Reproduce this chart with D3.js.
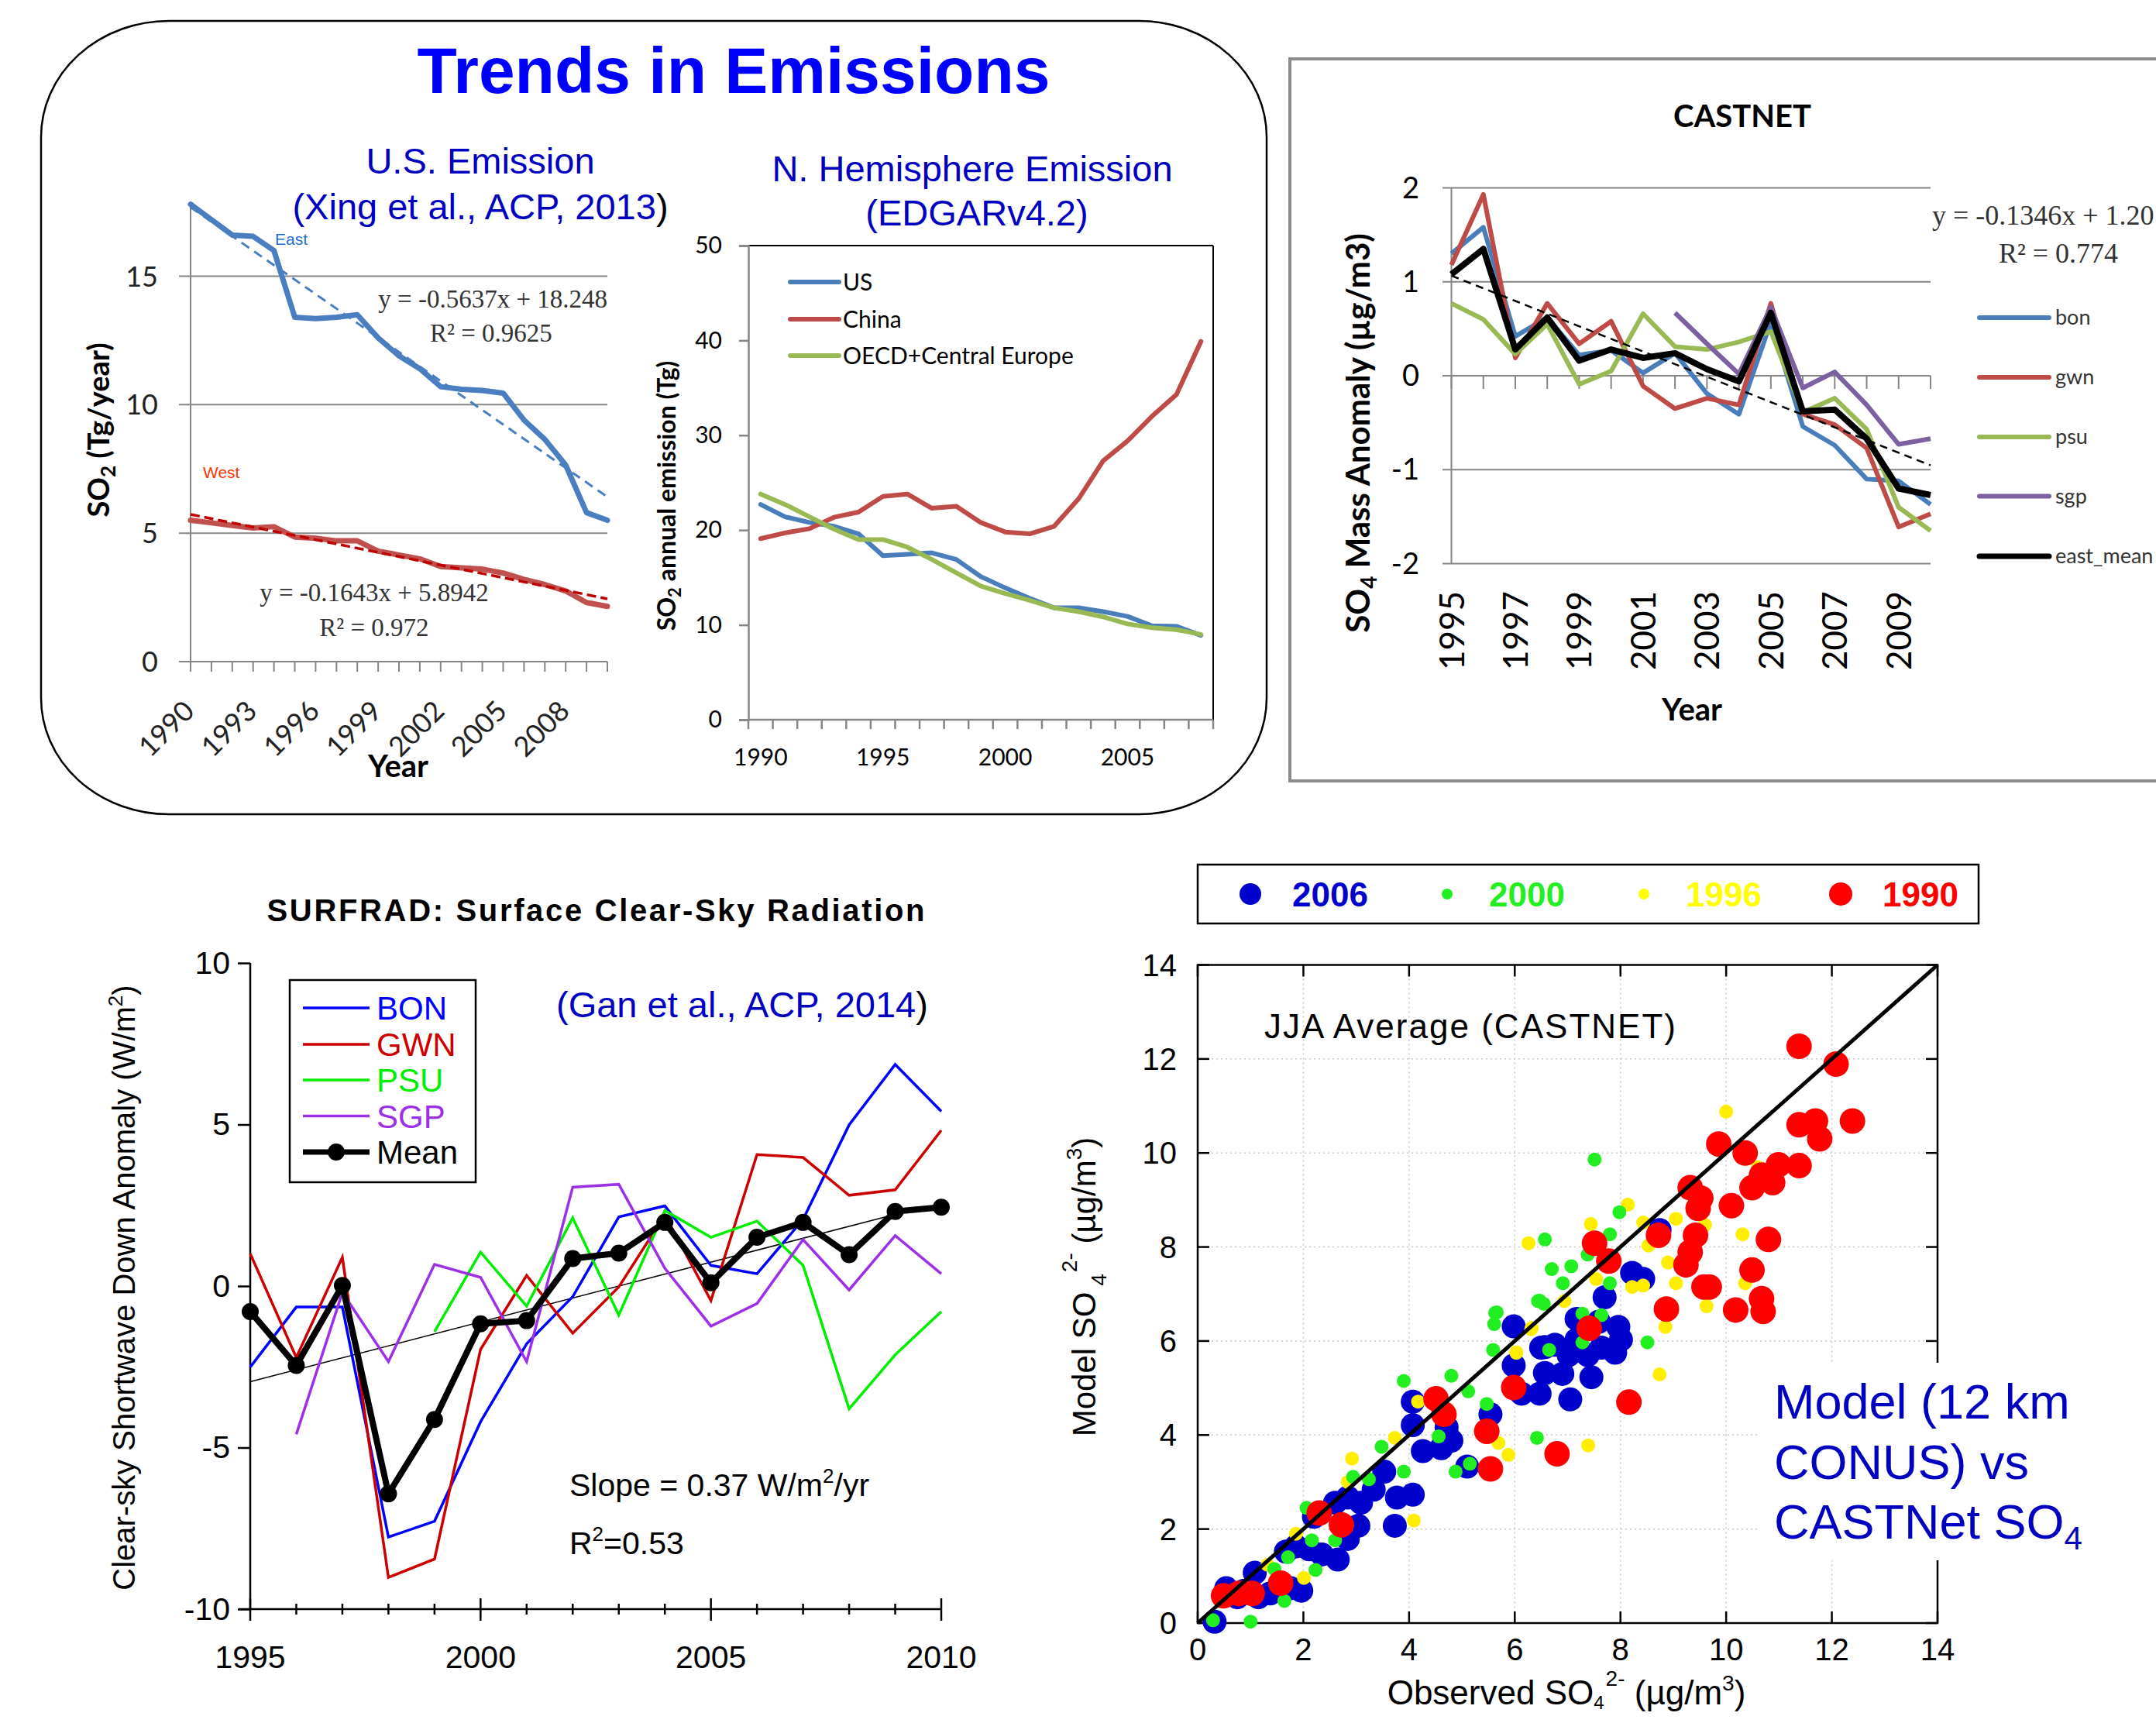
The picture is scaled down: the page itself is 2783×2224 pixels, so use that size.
<!doctype html>
<html>
<head>
<meta charset="utf-8">
<title>Trends in Emissions</title>
<script src="https://d3js.org/d3.v7.min.js"></script>
<style>
  body { margin: 0; background: #fff; }
</style>
</head>
<body>
<script>
// ---------------- data ----------------
// U.S. emission (Xing et al. 2013), Tg/yr
var usYears = [1990,1991,1992,1993,1994,1995,1996,1997,1998,1999,2000,2001,2002,2003,2004,2005,2006,2007,2008,2009,2010];
var usLabelYears = [1990,1993,1996,1999,2002,2005,2008];
var usTicks = [0,5,10,15];
var usEast = [17.8,17.2,16.6,16.55,16.0,13.4,13.35,13.4,13.5,12.6,11.9,11.4,10.7,10.6,10.55,10.45,9.4,8.65,7.65,5.8,5.5];
var usWest = [5.5,5.4,5.3,5.2,5.25,4.85,4.8,4.7,4.7,4.3,4.15,4.0,3.7,3.65,3.6,3.45,3.2,3.0,2.75,2.3,2.15];
var eastFit = [-0.5637, 18.248];
var westFit = [-0.1643, 5.8942];

// N. Hemisphere emission (EDGAR v4.2), Tg
var nhYears = [1990,1991,1992,1993,1994,1995,1996,1997,1998,1999,2000,2001,2002,2003,2004,2005,2006,2007,2008];
var nhLabelYears = [1990,1995,2000,2005];
var nhTicks = [0,10,20,30,40,50];
var nhUS = [22.7,21.4,20.8,20.4,19.6,17.3,17.45,17.6,16.9,15.1,13.9,12.8,11.8,11.8,11.4,10.9,9.9,9.85,8.9];
var nhChina = [19.1,19.7,20.15,21.35,21.9,23.55,23.8,22.3,22.5,20.8,19.8,19.6,20.4,23.3,27.3,29.4,32.0,34.3,39.9];
var nhOECD = [23.8,22.7,21.4,20.1,19.0,19.0,18.2,16.9,15.5,14.1,13.3,12.6,11.8,11.4,10.85,10.1,9.7,9.5,9.0];
var nhNames = ["US","China","OECD+Central Europe"];

// CASTNET SO4 anomaly, ug/m3
var cnYears = [1995,1996,1997,1998,1999,2000,2001,2002,2003,2004,2005,2006,2007,2008,2009,2010];
var cnLabelYears = [1995,1997,1999,2001,2003,2005,2007,2009];
var cnTicks = [-2,-1,0,1,2];
var cnBon = [1.3,1.58,0.42,0.62,0.22,0.27,0.03,0.24,-0.19,-0.41,0.57,-0.54,-0.74,-1.1,-1.12,-1.37];
var cnGwn = [1.18,1.93,0.19,0.77,0.34,0.58,-0.11,-0.35,-0.24,-0.31,0.77,-0.41,-0.52,-0.77,-1.61,-1.47];
var cnPsu = [0.77,0.6,0.23,0.55,-0.09,0.05,0.66,0.31,0.28,0.36,0.47,-0.39,-0.24,-0.57,-1.4,-1.65];
var cnSgp = [null,null,null,null,null,null,null,0.67,0.34,0.02,0.73,-0.13,0.04,-0.31,-0.73,-0.67];
var cnMean = [1.08,1.35,0.28,0.62,0.16,0.28,0.19,0.24,0.07,-0.06,0.67,-0.38,-0.36,-0.67,-1.2,-1.27];
var cnNames = ["bon","gwn","psu","sgp","east_mean"];
var cnFit = [-0.1346, 1.20];

// SURFRAD clear-sky shortwave down anomaly, W/m2
var sfYears = [1995,1996,1997,1998,1999,2000,2001,2002,2003,2004,2005,2006,2007,2008,2009,2010];
var sfLabelYears = [1995,2000,2005,2010];
var sfTicks = [-10,-5,0,5,10];
var sfBON = [-2.51,-0.65,-0.65,-7.77,-7.28,-4.2,-1.79,-0.33,2.14,2.48,0.64,0.38,2.06,4.99,6.86,5.41];
var sfGWN = [1.0,-2.21,0.89,-9.02,-8.45,-1.96,0.33,-1.46,-0.03,2.2,-0.45,4.07,3.98,2.81,2.98,4.82];
var sfPSU = [null,null,null,null,-1.41,1.05,-0.62,2.11,-0.9,2.34,1.51,2.01,0.64,-3.8,-2.13,-0.79];
var sfSGP = [null,-4.59,-0.2,-2.34,0.67,0.27,-2.34,3.06,3.15,0.55,-1.24,-0.54,1.44,-0.12,1.56,0.38];
var sfMean = [-0.79,-2.46,0.02,-6.43,-4.13,-1.17,-1.07,0.85,1.02,1.97,0.1,1.51,1.97,0.97,2.31,2.44];
var sfNames = ["BON","GWN","PSU","SGP","Mean"];
var sfFit = [0.37, -2.96]; // slope per year, value at 1995
var sfFitYears = [1995, 2009];

// Model vs CASTNet SO4 (JJA), [observed, model]
var sc2006 = [[0.32,0.03],[0.54,0.74],[0.88,0.69],[1.08,1.07],[1.37,0.63],[1.76,0.74],[1.96,0.69],[0.75,0.55],[1.15,0.55],
  [1.67,1.52],[1.86,1.63],[2.11,1.57],[2.35,1.46],[2.65,1.35],[2.2,2.26],[2.6,2.56],[2.84,2.67],[3.09,2.56],[3.33,2.84],[3.53,3.22],
  [3.04,2.07],[2.84,1.79],[3.73,2.07],[3.77,2.67],[4.07,2.73],[4.07,4.21],[4.07,4.71],[4.26,3.66],[4.61,3.72],[4.8,3.88],[4.71,4.16],
  [5.1,3.33],[5.54,4.44],[5.98,6.31],[5.98,5.48],[6.13,4.88],[6.47,4.88],[6.57,5.87],[6.57,5.32],[7.17,6.47],[7.59,6.41],[7.96,6.3],
  [8.01,6.03],[7.64,5.86],[7.17,6.03],[6.76,5.92],[6.5,5.86],[7.02,5.7],[7.38,5.7],[7.9,5.75],[7.7,6.93],[8.22,7.45],[8.43,7.32],
  [8.74,8.36],[7.45,5.23],[7.05,4.76],[6.9,5.3]];
var sc2000 = [[0.29,0.06],[1.0,0.03],[1.64,0.47],[1.71,1.4],[1.45,1.15],[2.06,2.45],[2.16,1.76],[2.23,1.13],[2.6,1.76],[2.94,3.11],
  [3.48,3.75],[3.24,3.06],[3.9,5.15],[3.9,3.22],[4.8,5.26],[4.56,3.97],[4.88,3.22],[5.15,3.39],[5.47,4.66],[5.66,6.61],[5.59,5.81],
  [6.42,3.94],[6.47,6.86],[5.12,4.93],[7.51,9.86],[6.57,8.16],[7.8,8.27],[7.98,8.74],[6.7,7.53],[7.07,7.59],[6.91,7.23],[7.8,7.23],
  [7.38,7.84],[6.44,6.85],[6.55,6.79],[5.63,6.6],[5.61,6.36],[7.28,6.58],[7.64,6.55],[8.51,5.97],[6.65,5.81],[7.28,5.97]];
var sc1996 = [[0.9,0.75],[1.32,1.24],[2.01,0.96],[1.86,1.9],[2.92,3.5],[2.84,3.0],[3.73,3.94],[4.09,2.18],[4.17,4.71],[5.69,3.83],
  [5.88,3.58],[6.03,5.76],[6.32,6.28],[10.0,10.88],[8.14,8.9],[7.44,8.49],[6.26,8.08],[8.43,8.52],[9.05,8.6],[9.6,8.47],[10.31,8.27],
  [8.9,7.67],[7.54,7.32],[9.05,7.23],[8.22,7.15],[8.43,7.18],[10.36,7.23],[9.63,6.74],[8.85,6.3],[6.94,6.85],[6.31,6.25],[6.03,5.75],
  [10.6,9.7],[8.53,8.03],[7.39,3.78],[8.74,5.29]];
var sc1990 = [[0.49,0.58],[0.78,0.63],[1.03,0.63],[1.57,0.85],[2.3,2.34],[2.72,2.09],[4.51,4.77],[4.66,4.44],[5.47,4.08],[5.54,3.28],
  [5.98,5.01],[6.8,3.6],[8.16,4.7],[11.38,12.27],[12.08,11.89],[12.39,10.68],[11.38,10.6],[11.69,10.68],[11.77,10.3],[9.86,10.19],
  [10.36,10.0],[11.38,9.73],[10.99,9.75],[10.88,9.37],[10.49,9.26],[10.67,9.53],[9.32,9.26],[9.52,9.04],[9.47,8.82],[10.1,8.88],
  [7.51,8.08],[7.78,7.7],[8.72,8.25],[9.42,8.25],[9.32,7.89],[9.24,7.62],[10.8,8.16],[10.49,7.51],[9.58,7.15],[9.68,7.15],[8.87,6.68],
  [10.18,6.66],[10.67,6.9],[10.7,6.63],[7.41,6.27]];
var scLegend = ["2006","2000","1996","1990"];
var scTicks = [0,2,4,6,8,10,12,14];

// ---------------- setup ----------------
var W = 2783, H = 2224;
var EXCEL = "Lato, 'Open Sans', sans-serif";
var ARIAL = "'Liberation Sans', Arial, sans-serif";
var SERIF = "'Liberation Serif', 'Times New Roman', serif";
var GRID = "#868686";

var svg = d3.select("body").append("svg")
    .attr("width", W).attr("height", H)
    .style("display", "block");
svg.append("rect").attr("width", W).attr("height", H).attr("fill", "#fff");

function label(g, x, y, txt, size, fam, anchor, fill, weight) {
    return g.append("text")
        .attr("x", x).attr("y", y)
        .attr("font-size", size)
        .attr("font-family", fam)
        .attr("text-anchor", anchor || "start")
        .attr("fill", fill || "#000")
        .attr("font-weight", weight || "normal")
        .text(txt);
}

function hline(g, x1, x2, y, color, w) {
    return g.append("line").attr("x1", x1).attr("x2", x2).attr("y1", y).attr("y2", y)
        .attr("stroke", color).attr("stroke-width", w);
}
function vline(g, x, y1, y2, color, w) {
    return g.append("line").attr("x1", x).attr("x2", x).attr("y1", y1).attr("y2", y2)
        .attr("stroke", color).attr("stroke-width", w);
}
function plain(d) { return String(d); } // keep ascii hyphen for negatives

// ---------------- top frame + title ----------------
var frame = svg.append("g");
frame.append("rect")
    .attr("x", 53).attr("y", 27).attr("width", 1582).attr("height", 1024)
    .attr("rx", 165).attr("ry", 150)
    .attr("fill", "none").attr("stroke", "#000").attr("stroke-width", 2.5);
label(frame, 947, 120, "Trends in Emissions", 84, ARIAL, "middle", "#0000ff", "bold");

// ---------------- panel 1: U.S. emission ----------------
var p1 = svg.append("g");
var p1x = d3.scalePoint().domain(usYears).range([246, 784]);
var p1y = d3.scaleLinear().domain([0, 15]).range([854, 356.5]);

label(p1, 620, 224, "U.S. Emission", 47, ARIAL, "middle", "#0000c0");
var cite1 = label(p1, 620, 283, "(Xing et al., ACP, 2013", 47, ARIAL, "middle", "#0000c0");
cite1.append("tspan").attr("fill", "#000").text(")");

usTicks.forEach(function(v) { hline(p1, 231, 784, p1y(v), GRID, 2); });
vline(p1, 246, p1y(0), p1y(17.9), GRID, 2);
usYears.forEach(function(yr) { vline(p1, p1x(yr), p1y(0), p1y(0) + 13, GRID, 2); });

p1.selectAll(".ytl").data(usTicks).enter().append("text")
    .attr("x", 204).attr("y", function(d) { return p1y(d) + 13; })
    .attr("text-anchor", "end").attr("font-family", EXCEL).attr("font-size", 36).attr("fill", "#222")
    .text(plain);
p1.selectAll(".xtl").data(usLabelYears).enter().append("text")
    .attr("transform", function(d) { return "translate(" + (p1x(d) + 7) + ",920) rotate(-45)"; })
    .attr("text-anchor", "end").attr("font-family", EXCEL).attr("font-size", 36).attr("fill", "#222")
    .text(plain);

var t1 = p1.append("text").attr("transform", "translate(141,555) rotate(-90)")
    .attr("text-anchor", "middle").attr("font-family", EXCEL).attr("font-size", 38).attr("font-weight", "bold");
t1.append("tspan").text("SO");
t1.append("tspan").attr("font-size", 26).attr("dy", 8).text("2");
t1.append("tspan").attr("dy", -8).text(" (Tg/year)");
label(p1, 514, 1003, "Year", 40, EXCEL, "middle", "#000", "bold");

var line1 = d3.line().x(function(d, i) { return p1x(usYears[i]); }).y(function(d) { return p1y(d); });
function fitSeg(fit) {
    var n = usYears.length;
    return [[p1x(usYears[0]), p1y(fit[0] * 1 + fit[1])], [p1x(usYears[n - 1]), p1y(fit[0] * n + fit[1])]];
}
p1.append("path").attr("d", line1(usEast)).attr("fill", "none").attr("stroke", "#4a7ec1")
    .attr("stroke-width", 7).attr("stroke-linejoin", "round").attr("stroke-linecap", "round");
p1.append("path").attr("d", line1(usWest)).attr("fill", "none").attr("stroke", "#c0504d")
    .attr("stroke-width", 7).attr("stroke-linejoin", "round").attr("stroke-linecap", "round");
p1.append("path").attr("d", d3.line()(fitSeg(eastFit))).attr("stroke", "#4a7ec1")
    .attr("stroke-width", 3).attr("stroke-dasharray", "12,8").attr("fill", "none");
p1.append("path").attr("d", d3.line()(fitSeg(westFit))).attr("stroke", "#c00000")
    .attr("stroke-width", 3.5).attr("stroke-dasharray", "12,6").attr("fill", "none");

label(p1, 355, 316, "East", 21, ARIAL, "start", "#1f6fd0");
label(p1, 262, 617, "West", 21, ARIAL, "start", "#ff3300");
label(p1, 784, 397, "y = -0.5637x + 18.248", 33, SERIF, "end", "#333");
label(p1, 634, 441, "R² = 0.9625", 33, SERIF, "middle", "#333");
label(p1, 483, 776, "y = -0.1643x + 5.8942", 33, SERIF, "middle", "#333");
label(p1, 483, 821, "R² = 0.972", 33, SERIF, "middle", "#333");

// ---------------- panel 2: N. Hemisphere ----------------
var p2 = svg.append("g");
var p2x = d3.scaleBand().domain(nhYears).range([966, 1566]);
var p2y = d3.scaleLinear().domain([0, 50]).range([929, 317]);
var bw = p2x.bandwidth();

label(p2, 1255, 234, "N. Hemisphere Emission", 47, ARIAL, "middle", "#0000c0");
label(p2, 1261, 291, "(EDGARv4.2)", 47, ARIAL, "middle", "#0000c0");

hline(p2, 966, 1566, p2y(50), "#000", 2);
vline(p2, 1566, p2y(50), p2y(0), "#000", 2);
p2.append("g").attr("transform", "translate(966,0)")
    .call(d3.axisLeft(p2y).tickValues(nhTicks).tickSize(12).tickPadding(22).tickFormat(plain))
    .call(function(g) {
        g.selectAll("path,line").attr("stroke", GRID).attr("stroke-width", 2.5);
        g.selectAll("text").attr("font-family", EXCEL).attr("font-size", 30).attr("fill", "#000");
    });
hline(p2, 966, 1566, p2y(0), GRID, 2.5);
nhYears.concat([null]).forEach(function(yr, i) {
    var x = i < nhYears.length ? p2x(yr) : p2x(nhYears[nhYears.length - 1]) + bw;
    vline(p2, x, p2y(0), p2y(0) + 12, GRID, 2.5);
});
p2.selectAll(".xtl").data(nhLabelYears).enter().append("text")
    .attr("x", function(d) { return p2x(d) + bw / 2; }).attr("y", 988)
    .attr("text-anchor", "middle").attr("font-family", EXCEL).attr("font-size", 30)
    .text(plain);

var t2 = p2.append("text").attr("transform", "translate(872,640) rotate(-90)")
    .attr("text-anchor", "middle").attr("font-family", EXCEL).attr("font-size", 32).attr("font-weight", "bold");
t2.append("tspan").text("SO");
t2.append("tspan").attr("font-size", 22).attr("dy", 7).text("2");
t2.append("tspan").attr("dy", -7).text(" annual emission (Tg)");

var nhColors = ["#4a7ebb", "#be4b48", "#98b954"];
var line2 = d3.line().x(function(d, i) { return p2x(nhYears[i]) + bw / 2; }).y(function(d) { return p2y(d); });
[nhUS, nhChina, nhOECD].forEach(function(s, k) {
    p2.append("path").attr("d", line2(s)).attr("fill", "none").attr("stroke", nhColors[k])
        .attr("stroke-width", 6).attr("stroke-linejoin", "round").attr("stroke-linecap", "round");
});
var legY2 = [364, 412, 459];
nhNames.forEach(function(n, k) {
    p2.append("line").attr("x1", 1020).attr("x2", 1083).attr("y1", legY2[k]).attr("y2", legY2[k])
        .attr("stroke", nhColors[k]).attr("stroke-width", 6).attr("stroke-linecap", "round");
    label(p2, 1088, legY2[k] + 11, n, 30, EXCEL, "start", "#000");
});

// ---------------- panel 3: CASTNET ----------------
var p3 = svg.append("g");
p3.append("rect").attr("x", 1665).attr("y", 76).attr("width", 1300).attr("height", 932)
    .attr("fill", "none").attr("stroke", "#8c8c8c").attr("stroke-width", 4);
var p3x = d3.scalePoint().domain(cnYears).range([1873.5, 2492]);
var p3y = d3.scaleLinear().domain([-2, 2]).range([727.5, 242.5]);

label(p3, 2249, 164, "CASTNET", 40, EXCEL, "middle", "#000", "bold");
cnTicks.forEach(function(v) { hline(p3, 1862, 2492, p3y(v), GRID, 2); });
vline(p3, 1873.5, p3y(-2), p3y(2), GRID, 2);
cnYears.forEach(function(yr) { vline(p3, p3x(yr), p3y(0), p3y(0) + 17, GRID, 2); });
p3.selectAll(".ytl").data(cnTicks).enter().append("text")
    .attr("x", 1832).attr("y", function(d) { return p3y(d) + 13; })
    .attr("text-anchor", "end").attr("font-family", EXCEL).attr("font-size", 38)
    .text(plain);
p3.selectAll(".xtl").data(cnLabelYears).enter().append("text")
    .attr("transform", function(d) { return "translate(" + (p3x(d) + 16) + ",763) rotate(-90)"; })
    .attr("text-anchor", "end").attr("font-family", EXCEL).attr("font-size", 44)
    .text(plain);
label(p3, 2184, 930, "Year", 40, EXCEL, "middle", "#000", "bold");
var t3 = p3.append("text").attr("transform", "translate(1768,559) rotate(-90)")
    .attr("text-anchor", "middle").attr("font-family", EXCEL).attr("font-size", 42).attr("font-weight", "bold");
t3.append("tspan").text("SO");
t3.append("tspan").attr("font-size", 28).attr("dy", 9).text("4");
t3.append("tspan").attr("dy", -9).text(" Mass  Anomaly (µg/m3)");

var cnColors = ["#4a7ebb", "#be4b48", "#98b954", "#7d60a0", "#000"];
var line3 = d3.line().defined(function(d) { return d != null; })
    .x(function(d, i) { return p3x(cnYears[i]); }).y(function(d) { return p3y(d); });
[cnBon, cnGwn, cnPsu, cnSgp, cnMean].forEach(function(s, k) {
    p3.append("path").attr("d", line3(s)).attr("fill", "none").attr("stroke", cnColors[k])
        .attr("stroke-width", k === 4 ? 8 : 6).attr("stroke-linejoin", "round");
});
var n3 = cnYears.length;
p3.append("path").attr("d", d3.line()([[p3x(cnYears[0]), p3y(cnFit[0] + cnFit[1])], [p3x(cnYears[n3 - 1]), p3y(cnFit[0] * n3 + cnFit[1])]]))
    .attr("stroke", "#000").attr("stroke-width", 2.5).attr("stroke-dasharray", "10,7").attr("fill", "none");

label(p3, 2494, 290, "y = -0.1346x + 1.20", 36, SERIF, "start", "#333");
label(p3, 2580, 339, "R² = 0.774", 36, SERIF, "start", "#333");
var legY3 = [410, 487, 564, 640.5, 718];
cnNames.forEach(function(n, k) {
    p3.append("line").attr("x1", 2555).attr("x2", 2645).attr("y1", legY3[k]).attr("y2", legY3[k])
        .attr("stroke", cnColors[k]).attr("stroke-width", k === 4 ? 7 : 6).attr("stroke-linecap", "round");
    label(p3, 2653, legY3[k] + 9, n, 27, EXCEL, "start", "#333");
});

// ---------------- panel 4: SURFRAD ----------------
var p4 = svg.append("g");
var p4x = d3.scaleLinear().domain([1995, 2010]).range([323, 1215]);
var p4y = d3.scaleLinear().domain([-10, 10]).range([2077, 1243]);

label(p4, 769, 1189, "SURFRAD: Surface Clear-Sky Radiation", 40, ARIAL, "middle", "#000", "bold")
    .attr("textLength", 849).attr("lengthAdjust", "spacing");
p4.append("g").attr("transform", "translate(323,0)")
    .call(d3.axisLeft(p4y).tickValues(sfTicks).tickSize(16).tickPadding(10).tickFormat(plain))
    .call(function(g) {
        g.select(".domain").remove();
        g.selectAll("line").attr("stroke", "#000").attr("stroke-width", 2.5);
        g.selectAll("text").attr("font-family", ARIAL).attr("font-size", 41).attr("fill", "#000");
    });
vline(p4, 323, p4y(10), p4y(-10), "#000", 2.5);
hline(p4, 308, 1215, p4y(-10), "#000", 2.5);
sfYears.forEach(function(yr) {
    var major = sfLabelYears.indexOf(yr) >= 0;
    vline(p4, p4x(yr), p4y(-10) - (major ? 14 : 7), p4y(-10) + (major ? 15 : 7), "#000", 2.5);
});
p4.selectAll(".xtl").data(sfLabelYears).enter().append("text")
    .attr("x", function(d) { return p4x(d); }).attr("y", 2153)
    .attr("text-anchor", "middle").attr("font-family", ARIAL).attr("font-size", 41)
    .text(plain);
var t4 = p4.append("text").attr("transform", "translate(174,1662) rotate(-90)")
    .attr("text-anchor", "middle").attr("font-family", ARIAL).attr("font-size", 40);
t4.append("tspan").text("Clear-sky Shortwave Down Anomaly (W/m");
t4.append("tspan").attr("font-size", 26).attr("dy", -16).text("2");
t4.append("tspan").attr("dy", 16).text(")");

var sfColors = ["#0000ff", "#cc0000", "#00ee00", "#9b30e6", "#000"];
var line4 = d3.line().defined(function(d) { return d != null; })
    .x(function(d, i) { return p4x(sfYears[i]); }).y(function(d) { return p4y(d); });
p4.append("path").attr("d", d3.line()(sfFitYears.map(function(yr) {
        return [p4x(yr), p4y(sfFit[1] + sfFit[0] * (yr - sfFitYears[0]))];
    }))).attr("stroke", "#000").attr("stroke-width", 1.5).attr("fill", "none");
[sfBON, sfGWN, sfPSU, sfSGP].forEach(function(s, k) {
    p4.append("path").attr("d", line4(s)).attr("fill", "none").attr("stroke", sfColors[k])
        .attr("stroke-width", 3.5).attr("stroke-linejoin", "miter");
});
p4.append("path").attr("d", line4(sfMean)).attr("fill", "none").attr("stroke", "#000")
    .attr("stroke-width", 8).attr("stroke-linejoin", "round");
p4.selectAll(".mk").data(sfMean).enter().append("circle")
    .attr("cx", function(d, i) { return p4x(sfYears[i]); }).attr("cy", function(d) { return p4y(d); })
    .attr("r", 11).attr("fill", "#000");

p4.append("rect").attr("x", 374).attr("y", 1265).attr("width", 240).attr("height", 261)
    .attr("fill", "#fff").attr("stroke", "#000").attr("stroke-width", 2.5);
var legY4 = [1301, 1348, 1394, 1440.5, 1487];
var sfTextColors = ["#0000ff", "#cc0000", "#00ee00", "#9b30e6", "#000"];
sfNames.forEach(function(n, k) {
    p4.append("line").attr("x1", 391).attr("x2", 477).attr("y1", legY4[k]).attr("y2", legY4[k])
        .attr("stroke", sfColors[k]).attr("stroke-width", k === 4 ? 7 : 3.5);
    if (k === 4) p4.append("circle").attr("cx", 434).attr("cy", legY4[k]).attr("r", 11).attr("fill", "#000");
    label(p4, 486, legY4[k] + 15, n, 42, ARIAL, "start", sfTextColors[k]);
});

var cite4 = label(p4, 718, 1313, "(Gan et al., ACP, 2014", 47, ARIAL, "start", "#0000c0");
cite4.append("tspan").attr("fill", "#000").text(")");
var sl = label(p4, 735, 1931, "Slope = 0.37 W/m", 41, ARIAL, "start", "#000");
sl.append("tspan").attr("font-size", 26).attr("dy", -17).text("2");
sl.append("tspan").attr("dy", 17).text("/yr");
var r4 = label(p4, 735, 2006, "R", 41, ARIAL, "start", "#000");
r4.append("tspan").attr("font-size", 26).attr("dy", -17).text("2");
r4.append("tspan").attr("dy", 17).text("=0.53");

// ---------------- panel 5: scatter ----------------
var p5 = svg.append("g");
var p5x = d3.scaleLinear().domain([0, 14]).range([1546, 2501]);
var p5y = d3.scaleLinear().domain([0, 14]).range([2095, 1245.5]);

scTicks.slice(1, -1).forEach(function(v) {
    vline(p5, p5x(v), p5y(14), p5y(0), "#c8c8c8", 1.5).attr("stroke-dasharray", "2,4");
    hline(p5, p5x(0), p5x(14), p5y(v), "#c8c8c8", 1.5).attr("stroke-dasharray", "2,4");
});
scTicks.forEach(function(v) {
    vline(p5, p5x(v), p5y(0), p5y(0) - 15, "#000", 2.5);
    vline(p5, p5x(v), p5y(14), p5y(14) + 15, "#000", 2.5);
    hline(p5, p5x(0), p5x(0) + 15, p5y(v), "#000", 2.5);
    hline(p5, p5x(14), p5x(14) - 15, p5y(v), "#000", 2.5);
});
p5.append("rect").attr("x", p5x(0)).attr("y", p5y(14)).attr("width", p5x(14) - p5x(0)).attr("height", p5y(0) - p5y(14))
    .attr("fill", "none").attr("stroke", "#000").attr("stroke-width", 2.5);

var scSets = [[sc2006, "#0000cc", 15.5], [sc1996, "#ffee00", 9], [sc2000, "#22ee22", 9], [sc1990, "#ff0000", 16.5]];
scSets.forEach(function(s) {
    p5.append("g").selectAll("circle").data(s[0]).enter().append("circle")
        .attr("cx", function(d) { return p5x(d[0]); }).attr("cy", function(d) { return p5y(d[1]); })
        .attr("r", s[2]).attr("fill", s[1]);
});
p5.append("line").attr("x1", p5x(0)).attr("y1", p5y(0)).attr("x2", p5x(14)).attr("y2", p5y(14))
    .attr("stroke", "#000").attr("stroke-width", 5);

p5.selectAll(".ytl").data(scTicks).enter().append("text")
    .attr("x", 1519).attr("y", function(d) { return p5y(d) + 14; })
    .attr("text-anchor", "end").attr("font-family", ARIAL).attr("font-size", 40)
    .text(plain);
p5.selectAll(".xtl").data(scTicks).enter().append("text")
    .attr("x", function(d) { return p5x(d); }).attr("y", 2143)
    .attr("text-anchor", "middle").attr("font-family", ARIAL).attr("font-size", 40)
    .text(plain);
label(p5, 1632, 1340, "JJA Average (CASTNET)", 44, ARIAL, "start", "#000")
    .attr("textLength", 531).attr("lengthAdjust", "spacing");

var ox = p5.append("text").attr("x", 2022).attr("y", 2200).attr("text-anchor", "middle")
    .attr("font-family", ARIAL).attr("font-size", 44);
ox.append("tspan").text("Observed SO");
ox.append("tspan").attr("font-size", 24).attr("dy", 6).text("4");
ox.append("tspan").attr("font-size", 28).attr("dy", -30).attr("dx", 2).text("2-");
ox.append("tspan").attr("dy", 24).text(" (µg/m");
ox.append("tspan").attr("font-size", 28).attr("dy", -18).text("3");
ox.append("tspan").attr("dy", 18).text(")");
var oy = p5.append("text").attr("transform", "translate(1414,1661) rotate(-90)").attr("text-anchor", "middle")
    .attr("font-family", ARIAL).attr("font-size", 42);
oy.append("tspan").text("Model SO");
oy.append("tspan").attr("font-size", 28).attr("dy", 14).text(" 4");
oy.append("tspan").attr("font-size", 28).attr("dy", -38).attr("dx", 2).text("2-");
oy.append("tspan").attr("dy", 24).text("  (µg/m");
oy.append("tspan").attr("font-size", 28).attr("dy", -18).text("3");
oy.append("tspan").attr("dy", 18).text(")");

// white box behind the caption
p5.append("rect").attr("x", 2272).attr("y", 1759).attr("width", 320).attr("height", 255).attr("fill", "#fff");
label(p5, 2290, 1831, "Model (12 km", 63, ARIAL, "start", "#0000c0");
label(p5, 2290, 1909, "CONUS) vs", 63, ARIAL, "start", "#0000c0");
var cs = label(p5, 2290, 1986, "CASTNet SO", 63, ARIAL, "start", "#0000c0");
cs.append("tspan").attr("font-size", 42).attr("dy", 14).text("4");

// legend
p5.append("rect").attr("x", 1546).attr("y", 1116).attr("width", 1008).attr("height", 76)
    .attr("fill", "#fff").attr("stroke", "#000").attr("stroke-width", 2.5);
var legX5 = [1614, 1868, 2122, 2376];
var legC5 = ["#0000cc", "#22ee22", "#ffff00", "#ff0000"];
var legR5 = [14, 7, 7, 15];
scLegend.forEach(function(n, k) {
    p5.append("circle").attr("cx", legX5[k]).attr("cy", 1154).attr("r", legR5[k]).attr("fill", legC5[k]);
    label(p5, legX5[k] + 54, 1170, n, 44, ARIAL, "start", legC5[k], "bold");
});
</script>
</body>
</html>
